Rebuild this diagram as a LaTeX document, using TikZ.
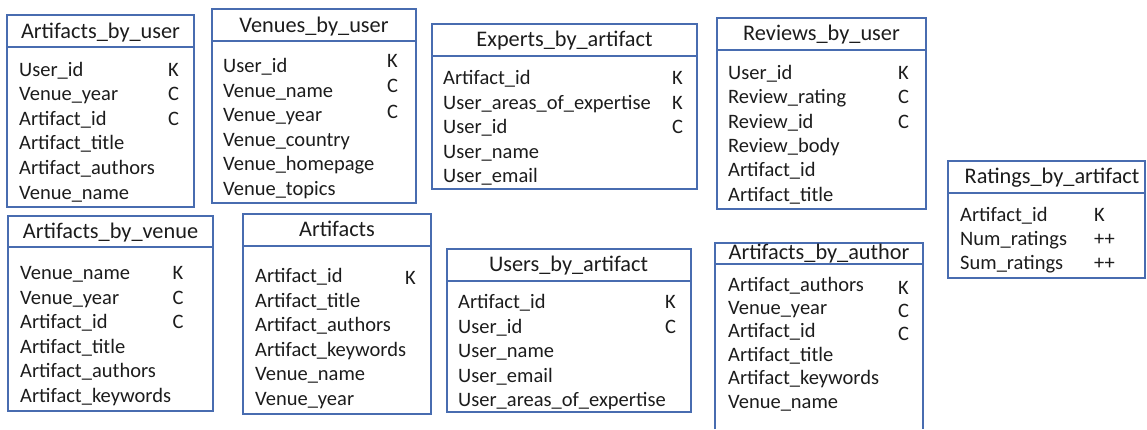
\documentclass[tikz,border=0pt]{standalone}
\usepackage{fontspec}
\setmainfont{Carlito}
\usepackage{xcolor}
\usetikzlibrary{positioning}

\definecolor{tblblue}{RGB}{72,108,176}
\definecolor{txtgray}{RGB}{28,28,28}

\tikzset{
  tbl/.style={draw=tblblue, line width=1.1pt},
  ttl/.style={font=\fontsize{22.3}{26}\selectfont, text=txtgray, inner sep=0pt, anchor=base},
  fld/.style={font=\fontsize{20.5}{24}\selectfont, text=txtgray, inner sep=0pt, anchor=base west},
}

\begin{document}
\begin{tikzpicture}[x=1pt,y=-1pt]
    \useasboundingbox (0,0) rectangle (1147,429);

    % Artifacts_by_user
    \draw[tbl] (7,15) rectangle (194,207);
    \draw[tbl] (7,47) -- (194,47);
    \node[ttl] (abu) at (100.5,38) {Artifacts\_by\_user};
    \foreach \f [count=\i from 0] in {User\_id, Venue\_year, Artifact\_id, Artifact\_title, Artifact\_authors, Venue\_name}
        \node[fld] (abu\i) at (19,76+24.6*\i) {\f};
    \node[fld] (abuk) at (168,76) {K};
    \node[fld] (abuc1) at (168,100.6) {C};
    \node[fld] (abuc2) at (168,125.2) {C};

    % Venues_by_user
    \draw[tbl] (212,9) rectangle (416,203);
    \draw[tbl] (212,41) -- (416,41);
    \node[ttl] (vbu) at (314,32) {Venues\_by\_user};
    \foreach \f [count=\i from 0] in {User\_id, Venue\_name, Venue\_year, Venue\_country, Venue\_homepage, Venue\_topics}
        \node[fld] (vbu\i) at (223,72.5+24.6*\i) {\f};
    \node[fld] (vbuk) at (387,67) {K};
    \node[fld] (vbuc1) at (387,92.5) {C};
    \node[fld] (vbuc2) at (387,118) {C};

    % Experts_by_artifact
    \draw[tbl] (432,24) rectangle (697,189);
    \draw[tbl] (432,56) -- (697,56);
    \node[ttl] (eba) at (564.5,46.5) {Experts\_by\_artifact};
    \foreach \f [count=\i from 0] in {Artifact\_id, User\_areas\_of\_expertise, User\_id, User\_name, User\_email}
        \node[fld] (eba\i) at (443,84.5+24.5*\i) {\f};
    \node[fld] (ebak1) at (672,84.5) {K};
    \node[fld] (ebak2) at (672,109) {K};
    \node[fld] (ebac) at (672,133.5) {C};

    % Reviews_by_user
    \draw[tbl] (717,18) rectangle (926,209);
    \draw[tbl] (717,50) -- (926,50);
    \node[ttl] (rbu) at (821.5,40.5) {Reviews\_by\_user};
    \foreach \f [count=\i from 0] in {User\_id, Review\_rating, Review\_id, Review\_body, Artifact\_id, Artifact\_title}
        \node[fld] (rbu\i) at (728,79.5+24.3*\i) {\f};
    \node[fld] (rbuk) at (898,79.5) {K};
    \node[fld] (rbuc1) at (898,103.8) {C};
    \node[fld] (rbuc2) at (898,128.1) {C};

    % Ratings_by_artifact
    \draw[tbl] (948,161) rectangle (1145,278);
    \draw[tbl] (948,193) -- (1145,193);
    \node[ttl] (rba) at (1052,183.5) {Ratings\_by\_artifact};
    \foreach \f [count=\i from 0] in {Artifact\_id, Num\_ratings, Sum\_ratings}
        \node[fld] (rba\i) at (960,221+24*\i) {\f};
    \node[fld] (rbak) at (1094,221) {K};
    \node[fld] (rbap1) at (1094,245) {++};
    \node[fld] (rbap2) at (1094,269) {++};

    % Artifacts_by_venue
    \draw[tbl] (8,216) rectangle (213,411);
    \draw[tbl] (8,247) -- (213,247);
    \node[ttl] (abv) at (110.5,238.5) {Artifacts\_by\_venue};
    \foreach \f [count=\i from 0] in {Venue\_name, Venue\_year, Artifact\_id, Artifact\_title, Artifact\_authors, Artifact\_keywords}
        \node[fld] (abv\i) at (20,279.5+24.6*\i) {\f};
    \node[fld] (abvk) at (172.5,279.5) {K};
    \node[fld] (abvc1) at (172.5,304.1) {C};
    \node[fld] (abvc2) at (172.5,328.7) {C};

    % Artifacts
    \draw[tbl] (243,214) rectangle (431,414);
    \draw[tbl] (243,246) -- (431,246);
    \node[ttl] (art) at (337,236.5) {Artifacts};
    \foreach \f [count=\i from 0] in {Artifact\_id, Artifact\_title, Artifact\_authors, Artifact\_keywords, Venue\_name, Venue\_year}
        \node[fld] (art\i) at (255,282.5+24.6*\i) {\f};
    \node[fld] (artk) at (405,284.5) {K};

    % Users_by_artifact
    \draw[tbl] (447,249) rectangle (691,412);
    \draw[tbl] (447,281) -- (691,281);
    \node[ttl] (uba) at (568.5,271.5) {Users\_by\_artifact};
    \foreach \f [count=\i from 0] in {Artifact\_id, User\_id, User\_name, User\_email, User\_areas\_of\_expertise}
        \node[fld] (uba\i) at (458,308.5+24.6*\i) {\f};
    \node[fld] (ubak) at (665,308.5) {K};
    \node[fld] (ubac) at (665,333.1) {C};

    % Artifacts_by_author (runs off the bottom)
    \draw[tbl] (715,429) -- (715,243) -- (923,243) -- (923,429);
    \draw[tbl] (715,264) -- (923,264);
    \node[ttl] (aba) at (819,259) {Artifacts\_by\_author};
    \foreach \f [count=\i from 0] in {Artifact\_authors, Venue\_year, Artifact\_id, Artifact\_title, Artifact\_keywords, Venue\_name}
        \node[fld] (aba\i) at (728,291+23.4*\i) {\f};
    \node[fld] (abak) at (898,294) {K};
    \node[fld] (abac1) at (898,317.4) {C};
    \node[fld] (abac2) at (898,340.8) {C};
\end{tikzpicture}
\end{document}
